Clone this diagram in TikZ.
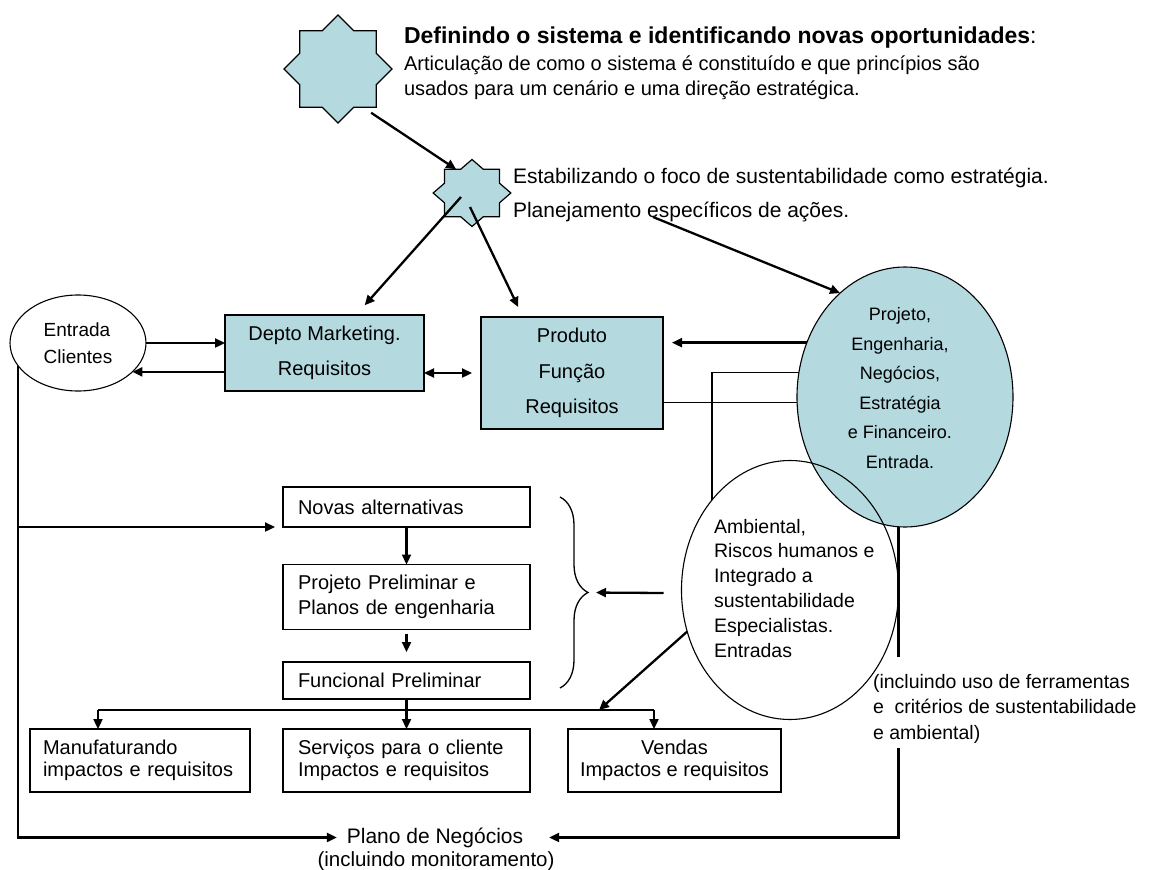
\documentclass[tikz,border=0pt]{standalone}
\usepackage{fontspec}
\setmainfont{Liberation Sans}
\usetikzlibrary{shapes.geometric,arrows.meta,calc,decorations.pathreplacing}
\definecolor{paleblue}{RGB}{180,218,224}
\pgfdeclarelayer{background}
\pgfsetlayers{background,main}
\newcommand{\fsz}[2]{\fontsize{#1}{#2}\selectfont}

\begin{document}
\begin{tikzpicture}[x=1pt,y=-1pt,
  every node/.style={inner sep=0pt,outer sep=0pt},
  starshape/.style={star,star points=8,star point ratio=1.3066,draw=black,fill=paleblue,line width=1.2pt},
  box/.style={draw=black,line width=1.4pt,inner ysep=0pt},
  bluebox/.style={box,fill=paleblue,align=center},
  lbox/.style={box,align=left,inner xsep=15pt},
  oval/.style={ellipse,draw=black,line width=1.1pt},
  arr/.style={line width=2.3pt,-{Triangle[length=10pt,width=9pt]}},
  dblarr/.style={line width=2.3pt,{Triangle[length=10pt,width=9pt]}-{Triangle[length=10pt,width=9pt]}},
  thinline/.style={line width=1.3pt},
  txt/.style={anchor=base west,font=\fsz{20}{24}},
]
\useasboundingbox (0,0) rectangle (1163,870);
\begin{pgfonlayer}{background}
  \fill[white] (0,0) rectangle (1163,870);
\end{pgfonlayer}

% --- stars and strategy texts
\node[starshape,minimum size=108pt] (bigstar) at (338,69) {};
\begin{scope}[shift={(472,193)},xscale=1.16]
  \node[starshape,minimum size=67pt,transform shape] (smallstar) at (0,0) {};
\end{scope}
\node[txt,font=\fsz{23}{28}] (head) at (404,43) {\bfseries Definindo o sistema e identificando novas oportunidades\mdseries:};
\node[txt] (sub1) at (404,70) {Articulação de como o sistema é constituído e que princípios são};
\node[txt] (sub2) at (404,95) {usados para um cenário e uma direção estratégica.};
\node[txt,font=\fsz{21}{25}] (estab) at (513,183) {Estabilizando o foco de sustentabilidade como estratégia.};
\node[txt,font=\fsz{21}{25}] (plan) at (513,217) {Planejamento específicos de ações.};

% --- inputs and requirement boxes
\node[oval,minimum width=136pt,minimum height=96pt,font=\fsz{19}{27},align=left] (ent) at (78,343) {Entrada\\Clientes};
\node[bluebox,minimum width=199pt,minimum height=76pt,font=\fsz{20}{35}] (depto) at (324.5,353) {Depto Marketing.\\Requisitos};
\node[bluebox,minimum width=182pt,minimum height=112pt,font=\fsz{20}{35.5}] (prod) at (572,373) {Produto\\Função\\Requisitos};
\node[oval,fill=paleblue,minimum width=216pt,minimum height=260pt] (proj) at (905,397) {};
\node[font=\fsz{18}{29.6},align=center] (projtxt) at (900,388) {Projeto,\\Engenharia,\\Negócios,\\Estratégia\\e Financeiro.\\Entrada.};

% --- development chain
\node[lbox,text width=217pt,minimum height=40pt,font=\fsz{20}{25}] (novas) at (406.5,507) {Novas alternativas};
\node[lbox,text width=217pt,minimum height=65pt,font=\fsz{20}{25}] (prelim) at (406.5,597) {Projeto Preliminar e\\Planos de engenharia};
\node[lbox,text width=217pt,minimum height=37pt,font=\fsz{20}{25}] (func) at (406.5,680.5) {Funcional Preliminar};
\node[lbox,inner xsep=13pt,text width=194pt,minimum height=63pt,font=\fsz{20}{21.5}] (manuf) at (140,760.5) {Manufaturando\\impactos e requisitos};
\node[lbox,text width=217pt,minimum height=63pt,font=\fsz{20}{21.5}] (serv) at (406.5,760.5) {Serviços para o cliente\\Impactos e requisitos};
\node[box,align=center,minimum width=213pt,minimum height=63pt,font=\fsz{20}{21.5}] (vendas) at (674.5,760.5) {Vendas\\Impactos e requisitos};
\node[anchor=base,font=\fsz{21}{25},inner xsep=10pt] (plano) at (435,843) {Plano de Negócios};
\node[anchor=base,font=\fsz{20.5}{25}] (monit) at (436,866) {(incluindo monitoramento)};

% --- tools note and environmental input
\node[anchor=north west,align=left,fill=white,inner xsep=2pt,font=\fsz{19.5}{25.5}] (ferr) at (871,657)
  {\rule{0pt}{31pt}(incluindo uso de ferramentas\\e\ \ critérios de sustentabilidade\\e ambiental)\rule[-9pt]{0pt}{9pt}};
\node[oval,minimum width=217pt,minimum height=259pt] (amb) at (790,590) {};
\node[anchor=north west,align=left,font=\fsz{19.5}{24.8}] (ambtxt) at (714,519)
  {Ambiental,\\Riscos humanos e\\Integrado a\\sustentabilidade\\Especialistas.\\Entradas};

% --- connectors
\draw[arr,shorten <=10pt] (bigstar.-57) -- (smallstar.120);
\draw[arr,shorten >=13pt] ($(smallstar.center)+(-11,4)$) -- ($(depto.north west)+(131,0)$);
\draw[arr,shorten >=11pt] ($(smallstar.center)+(-2,14)$) -- ($(prod.north west)+(42,0)$);
\draw[arr] ($(plan.base west)+(140,0)$) -- (proj.122);

\draw[arr] (ent.east) -- (ent.east -| depto.west);
\draw[arr] (ent.-28 -| depto.west) -- (ent.-28);
\draw[dblarr,shorten >=9pt] ($(depto.east)+(0,20)$) -- ($(prod.west |- depto.east)+(0,20)$);
\draw[arr,shorten >=9pt] (proj.151) -- (proj.151 -| prod.east);
\draw[thinline] (proj.183) -- (proj.183 -| prod.east);
\draw[thinline] (proj.167) -| (amb.131);

\draw[arr] (ent.201) |- (plano.west);
\draw[arr,shorten >=8pt] (ent.201 |- novas.south west) -- (novas.south west);
\draw[arr] (novas.south) -- (prelim.north);
\draw[arr,shorten <=4pt,shorten >=10pt] (prelim.south) -- (func.north);

\coordinate (busL) at (98,710);
\coordinate (busR) at (654,710);
\coordinate (bustap) at (599,710);
\draw[line width=2pt] (busL) -- (busR);
\draw[arr] (func.south) -- (serv.north);
\draw[arr] (busL) -- (busL |- manuf.north);
\draw[arr] (busR) -- (busR |- vendas.north);
\draw[arr] (amb.202) -- (bustap);

\coordinate (bracetop) at (560,497);
\coordinate (bracebot) at (560,688);
\draw[line width=1.3pt,decorate,decoration={brace,amplitude=28pt}] (bracetop) -- (bracebot);
\draw[arr,shorten >=8pt] ($(amb.west)+(-18,3)$) -- ($(bracetop)!0.5!(bracebot)+(28,0)$);

\begin{pgfonlayer}{background}
  \draw[arr] (proj.south -| amb.east) |- ($(plano.east)+(16,0)$);
\end{pgfonlayer}
\end{tikzpicture}
\end{document}
